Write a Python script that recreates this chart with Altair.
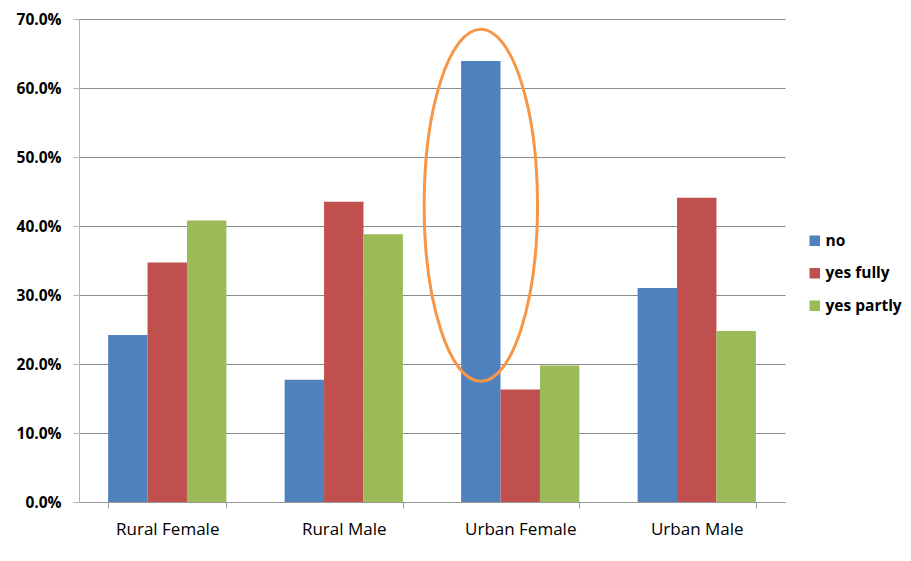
import altair as alt
import pandas as pd

categories = ["Rural Female", "Rural Male", "Urban Female", "Urban Male"]
series = ["no", "yes fully", "yes partly"]
no_vals = [0.242, 0.177, 0.639, 0.310]
fully_vals = [0.347, 0.435, 0.163, 0.441]
partly_vals = [0.408, 0.388, 0.198, 0.248]
colors = ["#4F81BD", "#C0504D", "#9BBB59"]
y_ticks = [0.0, 0.1, 0.2, 0.3, 0.4, 0.5, 0.6, 0.7]

highlight_category = ["Urban Female"]
highlight_series = ["no"]
highlight_center = [0.43]

rows = []
for s, vals in zip(series, [no_vals, fully_vals, partly_vals]):
    for c, v in zip(categories, vals):
        rows.append({"category": c, "series": s, "value": v})
df = pd.DataFrame(rows)

hl = pd.DataFrame({"category": highlight_category, "series": highlight_series,
                   "value": highlight_center})

FONT = "Open Sans"

x_enc = alt.X("category:N", sort=categories,
              scale=alt.Scale(paddingInner=0.33, paddingOuter=0.165),
              axis=alt.Axis(title=None, labelAngle=0, tickBand="extent",
                            domainColor="#9a9a9a", tickColor="#9a9a9a", tickSize=6,
                            labelFont=FONT, labelFontSize=17, labelColor="black",
                            labelPadding=13, grid=False))
xoff = alt.XOffset("series:N", sort=series, scale=alt.Scale(domain=series))
y_enc = alt.Y("value:Q", scale=alt.Scale(domain=[0, 0.7]),
              axis=alt.Axis(title=None, format=".1%", values=y_ticks,
                            grid=True, gridColor="#8c8c8c", gridWidth=1,
                            domainColor="#b5b5b5", tickColor="#b5b5b5", tickSize=6,
                            labelFont=FONT, labelFontSize=15.5, labelFontWeight="bold",
                            labelColor="black", labelPadding=12))

bars = alt.Chart(df).mark_bar().encode(
    x=x_enc,
    xOffset=xoff,
    y=y_enc,
    color=alt.Color("series:N", sort=series,
                    scale=alt.Scale(domain=series, range=colors),
                    legend=alt.Legend(title=None, orient="none", legendX=728, legendY=214,
                                      symbolType="square", symbolSize=110,
                                      symbolStrokeWidth=0,
                                      labelFont=FONT, labelFontSize=15.5,
                                      labelFontWeight="bold", labelColor="black",
                                      rowPadding=15.5, labelOffset=3)),
)

ellipse = alt.Chart(hl).mark_point(
    shape="M0,-1 A0.322,1 0 1,1 0,1 A0.322,1 0 1,1 0,-1 Z",
    size=123904, filled=False, strokeWidth=3, opacity=1,
).encode(
    x=alt.X("category:N", sort=categories),
    xOffset=alt.XOffset("series:N", sort=series),
    y=alt.Y("value:Q"),
    color=alt.value("#F79646"),
)

chart = alt.layer(bars, ellipse).properties(
    width=706, height=483,
    autosize=alt.AutoSizeParams(type="none"),
    padding={"left": 71, "top": 11, "right": 118, "bottom": 45},
).configure_view(stroke=None)

chart.save("out.html", embed_options={"renderer": "svg", "actions": False})
